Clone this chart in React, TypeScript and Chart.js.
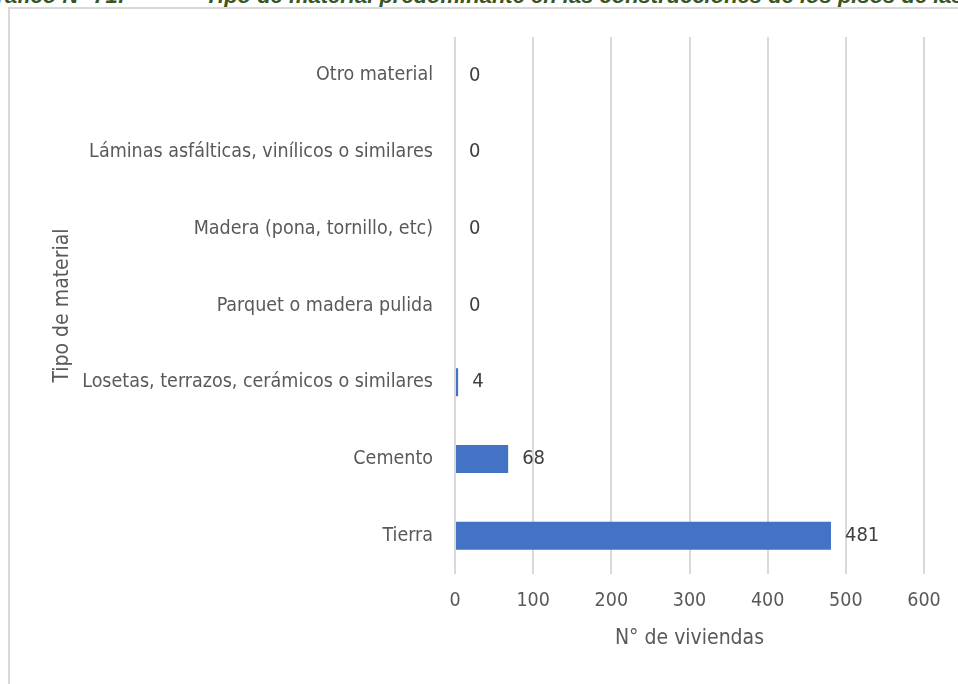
import React, { useEffect, useRef } from "react";
import { Chart, registerables } from "chart.js";

Chart.register(...registerables);

const categories = [
  "Otro material",
  "Láminas asfálticas, vinílicos o similares",
  "Madera (pona, tornillo, etc)",
  "Parquet o madera pulida",
  "Losetas, terrazos, cerámicos o similares",
  "Cemento",
  "Tierra",
];
const values = [0, 0, 0, 0, 4, 68, 481];
const xMin = 0;
const xMax = 600;
const xStep = 100;
const xTitle = "N° de viviendas";
const yTitle = "Tipo de material";
const titleLeft = "Gráfico N° 71:";
const titleRight = "Tipo de material predominante en las construcciones de los pisos de las viviendas";

const FONT = "'Liberation Sans Narrow', 'DejaVu Sans Condensed', 'Arial Narrow', sans-serif";
const TEXT = "#595959";

const dataLabels = {
  id: "dataLabels",
  afterDatasetsDraw(chart: any) {
    const { ctx } = chart;
    const meta = chart.getDatasetMeta(0);
    ctx.save();
    ctx.font = `20px ${FONT}`;
    ctx.fillStyle = "#404040";
    ctx.textAlign = "left";
    ctx.textBaseline = "middle";
    meta.data.forEach((bar: any, i: number) => {
      ctx.fillText(String(values[i]), bar.x + 14, bar.y);
    });
    ctx.restore();
  },
};

const titleStyle: React.CSSProperties = {
  position: "absolute",
  top: -15,
  whiteSpace: "nowrap",
  font: "italic bold 22px 'Liberation Sans', Arial, sans-serif",
  lineHeight: "22px",
  color: "#375623",
};

export default function App() {
  const ref = useRef<HTMLCanvasElement>(null);
  useEffect(() => {
    if (!ref.current) return;
    const chart = new Chart(ref.current, {
      type: "bar",
      data: {
        labels: categories,
        datasets: [
          {
            data: values,
            backgroundColor: "#4472C4",
            borderWidth: 0,
            categoryPercentage: 1,
            barPercentage: 0.365,
          },
        ],
      },
      options: {
        indexAxis: "y",
        responsive: false,
        animation: false,
        layout: { padding: { top: 27, right: 34, left: 0, bottom: 0 } },
        plugins: { legend: { display: false }, tooltip: { enabled: false } },
        scales: {
          x: {
            min: xMin,
            max: xMax,
            ticks: {
              stepSize: xStep,
              color: TEXT,
              font: { family: FONT, size: 19.5 },
              padding: 15,
            },
            grid: { color: "#d9d9d9", lineWidth: 2, drawTicks: false },
            border: { display: false },
            title: {
              display: true,
              text: xTitle,
              color: TEXT,
              font: { family: FONT, size: 21 },
              padding: { top: 0, bottom: 33 },
            },
            afterFit: (s: any) => {
              s.height = 110;
            },
          },
          y: {
            ticks: {
              color: TEXT,
              font: { family: FONT, size: 19.5 },
              padding: 22,
            },
            grid: { display: false, drawTicks: false },
            border: { display: false },
            title: {
              display: true,
              text: yTitle,
              color: TEXT,
              font: { family: FONT, size: 21 },
              padding: { top: 40, bottom: 0 },
            },
            afterFit: (s: any) => {
              s.width = 445;
              s.paddingTop = 0;
              s.paddingBottom = 0;
            },
          },
        },
      },
      plugins: [dataLabels],
    });
    return () => chart.destroy();
  }, []);

  return (
    <div style={{ position: "fixed", left: 0, top: 0, width: 958, height: 684, overflow: "hidden", background: "#fff" }}>
      <div style={{ ...titleStyle, right: 958 - 125 }}>{titleLeft}</div>
      <div style={{ ...titleStyle, left: 205 }}>{titleRight}</div>
      <div
        style={{
          position: "absolute",
          left: 8,
          top: 7,
          width: 1000,
          height: 1000,
          border: "2px solid #d9d9d9",
          boxSizing: "border-box",
        }}
      />
      <canvas ref={ref} width={948} height={674} style={{ position: "absolute", left: 10, top: 10 }} />
    </div>
  );
}
